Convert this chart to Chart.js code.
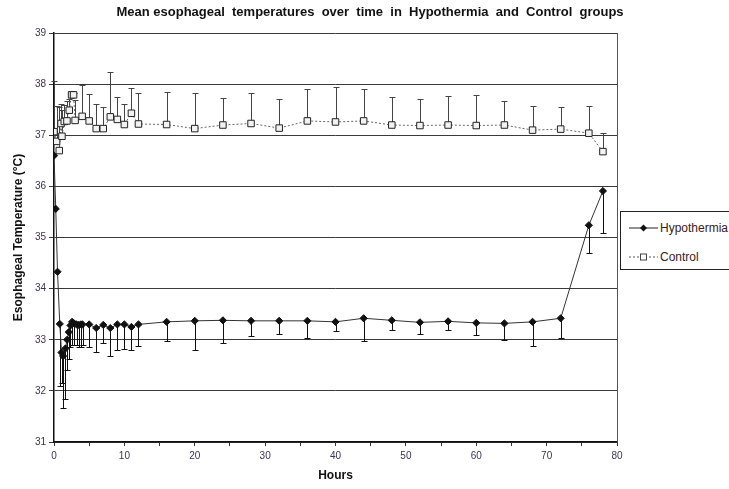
<!DOCTYPE html>
<html>
<head>
<meta charset="utf-8">
<script src="https://cdn.jsdelivr.net/npm/chart.js@4/dist/chart.umd.min.js"></script>
<style>
    html, body { margin: 0; padding: 0; background: #fff; overflow: hidden; }
    #wrap { position: relative; width: 729px; height: 489px; }
    #legend {
        position: absolute; left: 620px; top: 211px; width: 120px; height: 59px;
        border: 1px solid #222; background: #fff; box-sizing: border-box;
        font: 12px "Liberation Sans", Arial, sans-serif; color: #3a2020;
    }
    .row { position: absolute; left: 8px; height: 16px; display: flex; align-items: center; }
    .row svg { margin-right: 2px; }
</style>
</head>
<body>
<div id="wrap">
    <canvas id="chart" width="729" height="489"></canvas>
    <div id="legend">
        <div class="row" style="top:8px">
            <svg width="29" height="10"><line x1="0" y1="5" x2="29" y2="5" stroke="#222" stroke-width="1"/><path d="M14.5 1.5 L18 5 L14.5 8.5 L11 5 Z" fill="#111"/></svg>
            <span>Hypothermia</span>
        </div>
        <div class="row" style="top:37px">
            <svg width="29" height="10"><line x1="0" y1="5" x2="29" y2="5" stroke="#555" stroke-width="1" stroke-dasharray="2,2"/><rect x="11.5" y="2" width="6" height="6" fill="#fff" stroke="#444"/></svg>
            <span>Control</span>
        </div>
    </div>
</div>
<script>
// values
const hypoHours = [0, 0.25, 0.5, 0.82, 1.07, 1.29, 1.63, 1.86, 2.1, 2.34, 2.57, 2.86, 3.2, 3.52, 3.8, 4.05,
    5, 6, 7, 8, 9, 10, 11, 12, 16, 20, 24, 28, 32, 36, 40, 44, 48, 52, 56, 60, 64, 68, 72, 76, 78];
const hypoMean = [36.6, 35.56, 34.33, 33.31, 32.75, 32.68, 32.83, 33.0, 33.15, 33.28, 33.35, 33.32, 33.3, 33.29, 33.3, 33.3,
    33.3, 33.23, 33.29, 33.23, 33.3, 33.3, 33.25, 33.3, 33.35, 33.37, 33.38, 33.37, 33.37, 33.37, 33.35, 33.42,
    33.38, 33.34, 33.36, 33.33, 33.32, 33.35, 33.42, 35.24, 35.91];
// lower end of the (minus only) error bars
const hypoLow = [null, null, null, 32.09, 32.15, 31.66, 31.85, 32.4, 32.62, 32.86, 32.9, 32.9, 32.9, 32.85, 32.85, 32.9,
    32.86, 32.76, 32.94, 32.69, 32.8, 32.82, 32.8, 32.88, 32.97, 32.8, 32.93, 33.07, 33.11, 33.04, 33.17, 32.98,
    33.19, 33.12, 33.19, 33.09, 33.0, 32.88, 33.03, 34.69, 35.09];

const ctrlHours = [0, 0.37, 0.75, 1.0, 1.13, 1.46, 1.84, 2.17, 2.5, 2.78, 3.0, 4, 5, 6, 7, 8, 9, 10, 11, 12,
    16, 20, 24, 28, 32, 36, 40, 44, 48, 52, 56, 60, 64, 68, 72, 76, 78];
const ctrlMean = [37.07, 36.88, 36.7, 37.23, 36.98, 37.27, 37.28, 37.49, 37.79, 37.79, 37.29, 37.37, 37.28, 37.13,
    37.13, 37.36, 37.31, 37.21, 37.43, 37.22, 37.21, 37.13, 37.2, 37.23, 37.14, 37.28, 37.26, 37.28, 37.2,
    37.19, 37.2, 37.19, 37.2, 37.1, 37.12, 37.04, 36.68];
// upper end of the (plus only) error bars
const ctrlHigh = [38.06, 37.57, 37.55, 37.62, 37.5, 37.6, 37.67, 37.7, 37.82, 37.82, 37.69, 37.98, 37.81, 37.61,
    37.56, 38.24, 37.75, 37.61, 37.93, 37.82, 37.84, 37.82, 37.73, 37.82, 37.7, 37.9, 37.95, 37.91, 37.75,
    37.7, 37.77, 37.79, 37.67, 37.58, 37.55, 37.58, 37.04];

const xTickLabels = [0, 10, 20, 30, 40, 50, 60, 70, 80];
const yTickLabels = [31, 32, 33, 34, 35, 36, 37, 38, 39];

const FONT = '"Liberation Sans", Arial, sans-serif';

function toPoints(xs, ys) {
    return xs.map((x, i) => ({ x: x, y: ys[i] }));
}

// Excel style one-sided error bars, drawn under the markers
const errorBars = {
    id: 'errorBars',
    beforeDatasetsDraw(chart) {
        const { ctx, scales: { x, y } } = chart;
        const sets = [
            { xs: hypoHours, from: hypoMean, to: hypoLow, color: '#111' },
            { xs: ctrlHours, from: ctrlMean, to: ctrlHigh, color: '#444' },
        ];
        ctx.save();
        ctx.lineWidth = 1;
        for (const s of sets) {
            ctx.strokeStyle = s.color;
            s.xs.forEach((h, i) => {
                if (s.to[i] == null) return;
                const px = Math.round(x.getPixelForValue(h)) + 0.5;
                const p0 = y.getPixelForValue(s.from[i]);
                const p1 = Math.round(y.getPixelForValue(s.to[i])) + 0.5;
                ctx.beginPath();
                ctx.moveTo(px, p0);
                ctx.lineTo(px, p1);
                ctx.moveTo(px - 3, p1);
                ctx.lineTo(px + 3, p1);
                ctx.stroke();
            });
        }
        ctx.restore();
    },
    afterDraw(chart) {
        // right border of the plot area
        const { ctx, chartArea: a } = chart;
        ctx.save();
        ctx.strokeStyle = '#555';
        ctx.lineWidth = 1;
        ctx.beginPath();
        ctx.moveTo(Math.round(a.right) + 0.5, a.top);
        ctx.lineTo(Math.round(a.right) + 0.5, a.bottom);
        ctx.stroke();
        ctx.restore();
    },
};

new Chart(document.getElementById('chart'), {
    type: 'scatter',
    data: {
        datasets: [
            {
                label: 'Hypothermia',
                data: toPoints(hypoHours, hypoMean),
                showLine: true,
                borderColor: '#333',
                borderWidth: 1,
                pointStyle: 'rectRot',
                pointRadius: 3.6,
                pointBackgroundColor: '#111',
                pointBorderColor: '#111',
                pointBorderWidth: 1,
            },
            {
                label: 'Control',
                data: toPoints(ctrlHours, ctrlMean),
                showLine: true,
                borderColor: '#666',
                borderWidth: 1,
                borderDash: [2, 2],
                pointStyle: 'rect',
                pointRadius: 4.6,
                pointBackgroundColor: '#f2f2f2',
                pointBorderColor: '#222',
                pointBorderWidth: 1,
            },
        ],
    },
    options: {
        responsive: false,
        animation: false,
        layout: { padding: { left: 11, top: 0, right: 0, bottom: 0 } },
        plugins: {
            legend: { display: false },
            tooltip: { enabled: false },
            title: {
                display: true,
                text: 'Mean esophageal  temperatures  over  time  in  Hypothermia  and  Control  groups',
                color: '#111',
                font: { family: FONT, size: 13, weight: 'bold' },
                padding: { top: 5, bottom: 12.4 },
            },
        },
        scales: {
            x: {
                type: 'linear',
                min: 0,
                max: 80,
                ticks: {
                    stepSize: 5,
                    autoSkip: false,
                    maxRotation: 0,
                    padding: 4,
                    color: '#3b3352',
                    font: { family: FONT, size: 10 },
                    callback: v => xTickLabels.includes(v) ? String(v) : '',
                },
                grid: { drawOnChartArea: false, drawTicks: true, tickLength: 4, color: '#333' },
                border: { display: true, color: '#111', width: 1.5 },
                title: {
                    display: true,
                    text: 'Hours',
                    color: '#111',
                    font: { family: FONT, size: 12, weight: 'bold' },
                    padding: { top: 4, bottom: 6 },
                },
                afterFit: s => { s.height = 47; },
            },
            y: {
                min: 31,
                max: 39,
                afterBuildTicks: s => { s.ticks = yTickLabels.map(v => ({ value: v })); },
                ticks: {
                    padding: 3,
                    color: '#3b3352',
                    font: { family: FONT, size: 10 },
                },
                grid: { color: '#3a3a3a', lineWidth: 1, drawTicks: true, tickLength: 5 },
                border: { display: true, color: '#111', width: 1.5 },
                title: {
                    display: true,
                    text: 'Esophageal Temperature (°C)',
                    color: '#111',
                    font: { family: FONT, size: 12, weight: 'bold' },
                    padding: { top: 0, bottom: 4 },
                },
                afterFit: s => { s.width = 43; },
            },
            yRight: {
                position: 'right',
                display: true,
                ticks: { display: false },
                grid: { display: false },
                border: { display: false },
                afterFit: s => { s.width = 112; },
            },
        },
    },
    plugins: [errorBars],
});
</script>
</body>
</html>
